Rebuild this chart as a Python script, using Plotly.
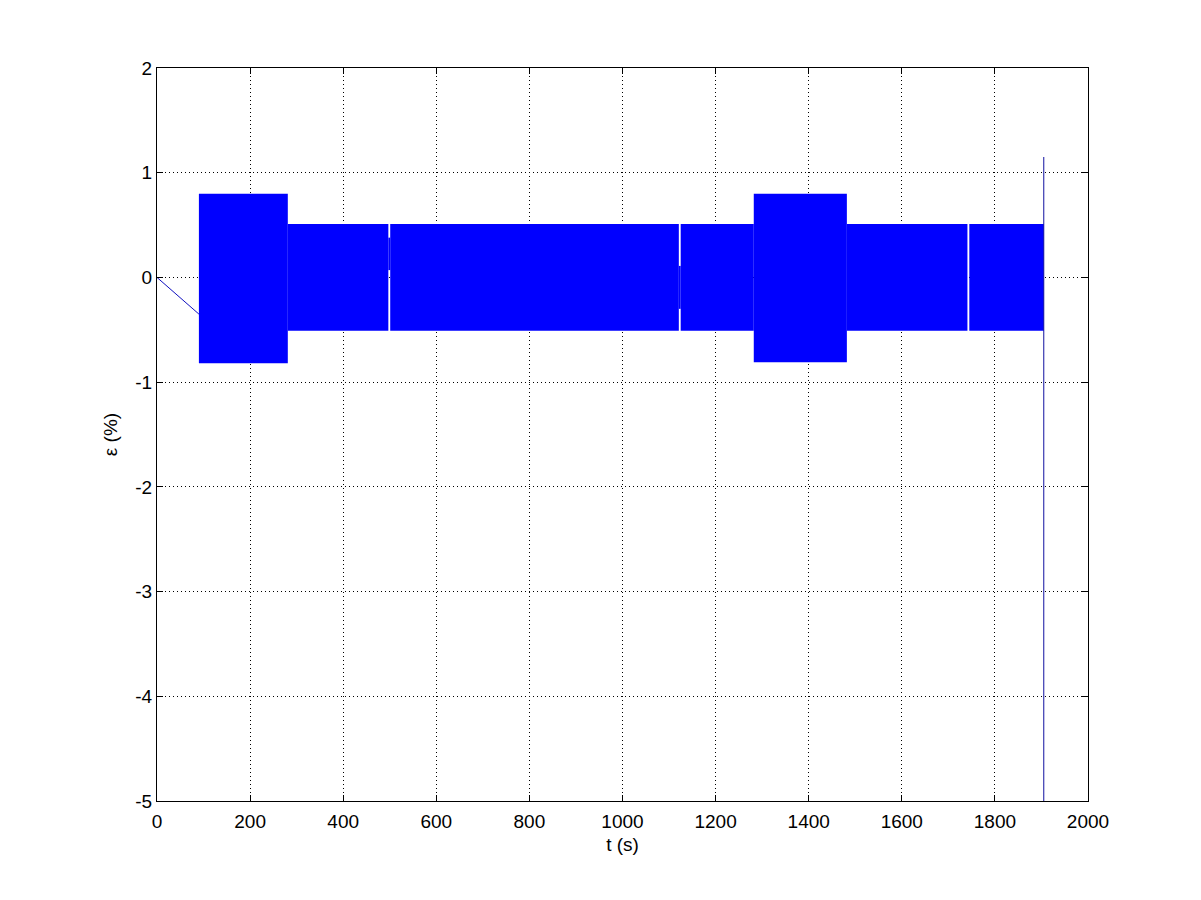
import plotly.graph_objects as go

# Signal envelope bands (dense oscillation shown as its envelope)
band_start = [90, 281, 501, 1125, 1282, 1482, 1745]
band_end = [281, 497, 1121, 1282, 1482, 1741, 1905]
band_upper = [0.80, 0.51, 0.51, 0.51, 0.80, 0.51, 0.51]
band_lower = [-0.82, -0.51, -0.51, -0.51, -0.81, -0.51, -0.51]

# partly filled pieces inside the thin white gaps
bridge_start = [497, 1121]
bridge_end = [501, 1125]
bridge_upper = [0.38, 0.11]
bridge_lower = [0.07, -0.30]

# initial ramp before oscillation starts
ramp_t = [0, 90]
ramp_y = [0, -0.35]

# final spike
spike_t = [1905, 1905]
spike_y = [1.15, -5.3]

x_ticks = [0, 200, 400, 600, 800, 1000, 1200, 1400, 1600, 1800, 2000]
y_ticks = [-5, -4, -3, -2, -1, 0, 1, 2]
y_tick_text = ["-5", "-4", "-3", "-2", "-1", "0", "1", "2"]

BLUE = "#0000FF"
FONT = "Liberation Sans, Arial"
fig = go.Figure()

for s, e, u, l in list(zip(band_start, band_end, band_upper, band_lower)) + \
        list(zip(bridge_start, bridge_end, bridge_upper, bridge_lower)):
    fig.add_trace(go.Scatter(
        x=[s, e, e, s, s], y=[u, u, l, l, u],
        mode="lines", fill="toself", fillcolor=BLUE,
        line=dict(color=BLUE, width=0), hoverinfo="skip", showlegend=False))

fig.add_trace(go.Scatter(x=ramp_t, y=ramp_y, mode="lines",
                         line=dict(color="#1010C0", width=1), showlegend=False))
fig.add_trace(go.Scatter(x=spike_t, y=spike_y, mode="lines",
                         line=dict(color="#1010A0", width=1), showlegend=False))

axis_common = dict(
    showline=True, linecolor="black", linewidth=1, mirror="ticks",
    ticks="inside", ticklen=6, tickcolor="black",
    showgrid=True, gridcolor="black", gridwidth=1, griddash="1px,3px",
    zeroline=False,
    tickfont=dict(family=FONT, size=19, color="black"),
)

fig.update_xaxes(range=[0, 2000], tickvals=x_ticks, ticklabelstandoff=3,
                 title=dict(text="t (s)", font=dict(family=FONT, size=19, color="black"), standoff=6),
                 **axis_common)
fig.update_yaxes(range=[-5, 2], tickvals=y_ticks, ticktext=y_tick_text,
                 title=dict(text="ε (%)", font=dict(family=FONT, size=19, color="black"), standoff=12),
                 **axis_common)

fig.update_layout(
    width=1201, height=900,
    margin=dict(l=149, r=121, t=60, b=107),
    paper_bgcolor="white", plot_bgcolor="white",
    showlegend=False,
)

fig.write_html("out.html")
